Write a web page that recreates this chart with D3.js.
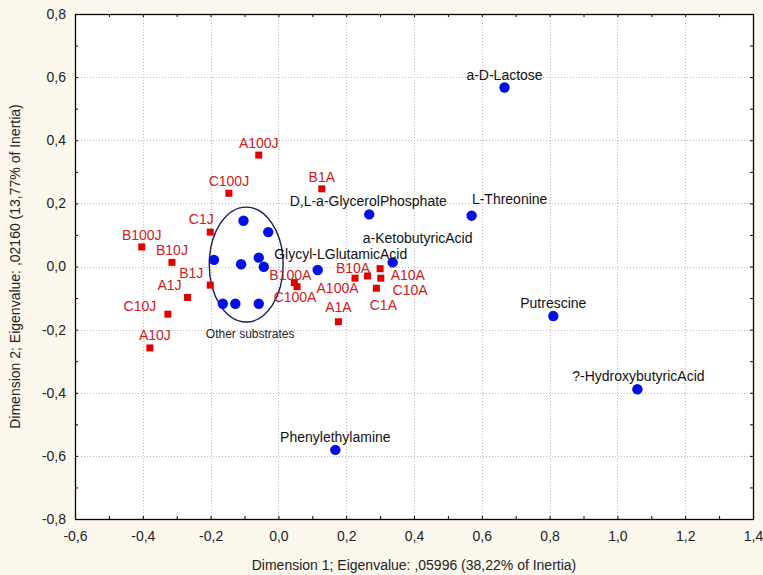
<!DOCTYPE html>
<html><head><meta charset="utf-8">
<script src="https://cdn.jsdelivr.net/npm/d3@7"></script>
<style>body{margin:0;background:#fcf8ee} svg{display:block}</style>
</head><body><svg id="c" width="763" height="575"></svg>
<script>
// ---- data ----
const substrates = ["a-D-Lactose","L-Threonine","D,L-a-GlycerolPhosphate","a-KetobutyricAcid","Glycyl-LGlutamicAcid","Putrescine","?-HydroxybutyricAcid","Phenylethylamine"];
const substrateX = [0.667, 0.570, 0.268, 0.337, 0.116, 0.811, 1.059, 0.168];
const substrateY = [0.567, 0.161, 0.165, 0.013, -0.011, -0.157, -0.389, -0.581];
const otherX = [-0.103, -0.030, -0.190, -0.110, -0.058, -0.043, -0.164, -0.127, -0.058];
const otherY = [0.145, 0.109, 0.021, 0.007, 0.028, -0.001, -0.118, -0.118, -0.118];
const samples = ["A100J","C100J","B1A","C1J","B100J","B10J","B1J","A1J","C10J","A10J","B100A","C100A","B10A","A100A","A10A","C10A","C1A","A1A"];
const sampleX = [-0.058, -0.146, 0.128, -0.201, -0.403, -0.314, -0.201, -0.268, -0.326, -0.379, 0.047, 0.055, 0.226, 0.263, 0.302, 0.300, 0.289, 0.177];
const sampleY = [0.353, 0.232, 0.246, 0.109, 0.062, 0.013, -0.059, -0.098, -0.151, -0.258, -0.051, -0.064, -0.037, -0.030, -0.037, -0.007, -0.069, -0.175];
const otherLabel = "Other substrates";
const ellipseCenter = [-0.095, 0.006];
const ellipseRadii = [0.109, 0.182];
const xTicks = [-0.6,-0.4,-0.2,0,0.2,0.4,0.6,0.8,1.0,1.2,1.4];
const yTicks = [-0.8,-0.6,-0.4,-0.2,0,0.2,0.4,0.6,0.8];
const xTitle = "Dimension 1; Eigenvalue: ,05996 (38,22% of Inertia)";
const yTitle = "Dimension 2; Eigenvalue: ,02160 (13,77% of Inertia)";

// ---- layout (label placement, px offsets of label centre from mark) ----
const labelOffset = {
  "a-D-Lactose":[0,-13], "L-Threonine":[38,-17], "D,L-a-GlycerolPhosphate":[-1,-13],
  "a-KetobutyricAcid":[25,-24], "Glycyl-LGlutamicAcid":[23,-16], "Putrescine":[0,-13],
  "?-HydroxybutyricAcid":[1,-13], "Phenylethylamine":[0,-13],
  "A100J":[0,-12], "C100J":[0,-12], "B1A":[0,-12], "C1J":[-9,-13], "B100J":[0,-12],
  "B10J":[0,-12], "B1J":[-19,-12], "A1J":[-18,-12], "C10J":[-28,-8], "A10J":[5,-13],
  "B100A":[-4,-8], "C100A":[-2,10], "B10A":[-2,-10], "A100A":[-30,12],
  "A10A":[27,-3], "C10A":[30,21], "C1A":[7,17], "A1A":[0,-15]
};

const W = 763, H = 575;
const m = {l:75, r:10, t:14, b:56};
const svg = d3.select("#c");
svg.append("rect").attr("width",W).attr("height",H).attr("fill","#fcf8ee");

const x = d3.scaleLinear().domain([-0.6,1.4]).range([m.l, W-m.r]);
const y = d3.scaleLinear().domain([-0.8,0.8]).range([H-m.b, m.t]);
const loc = d3.formatLocale({decimal:",", thousands:".", grouping:[3], currency:["",""], minus:"-"});
const fmt = loc.format(".1f");
const font = "'Liberation Sans', Arial, sans-serif";

svg.append("rect").attr("x",x(-0.6)).attr("y",y(0.8))
  .attr("width",x(1.4)-x(-0.6)).attr("height",y(-0.8)-y(0.8)).attr("fill","#fff");

// grid
const g = svg.append("g");
g.selectAll("line.vx").data(xTicks.slice(1,-1)).join("line")
  .attr("x1",d=>Math.round(x(d))+0.5).attr("x2",d=>Math.round(x(d))+0.5)
  .attr("y1",y(0.8)).attr("y2",y(-0.8))
  .attr("stroke","#b8b8b8").attr("stroke-dasharray","1,2");
g.selectAll("line.hy").data(yTicks.slice(1,-1)).join("line")
  .attr("y1",d=>Math.round(y(d))+0.5).attr("y2",d=>Math.round(y(d))+0.5)
  .attr("x1",x(-0.6)).attr("x2",x(1.4))
  .attr("stroke","#b8b8b8").attr("stroke-dasharray","1,2");

// axes (ticks inside, all four sides)
const xMinor = d3.range(-0.6,1.4001,0.1);
const yMinor = d3.range(-0.8,0.8001,0.1);
function styleAxis(sel){
  sel.select(".domain").remove();
  sel.selectAll(".tick line").attr("stroke","#000");
  sel.selectAll("text").attr("font-family",font).attr("font-size",14).attr("fill","#222");
}
svg.append("g").attr("transform",`translate(0,${y(-0.8)})`)
  .call(d3.axisBottom(x).tickValues(xMinor).tickSize(-3).tickFormat(""))
  .call(styleAxis);
svg.append("g").attr("transform",`translate(0,${y(0.8)})`)
  .call(d3.axisTop(x).tickValues(xMinor).tickSize(-3).tickFormat(""))
  .call(styleAxis);
svg.append("g").attr("transform",`translate(${x(-0.6)},0)`)
  .call(d3.axisLeft(y).tickValues(yMinor).tickSize(-3).tickFormat(""))
  .call(styleAxis);
svg.append("g").attr("transform",`translate(${x(1.4)},0)`)
  .call(d3.axisRight(y).tickValues(yMinor).tickSize(-3).tickFormat(""))
  .call(styleAxis);
// labels
svg.append("g").attr("transform",`translate(0,${y(-0.8)})`)
  .call(d3.axisBottom(x).tickValues(xTicks).tickSize(0).tickPadding(12).tickFormat(fmt))
  .call(styleAxis);
svg.append("g").attr("transform",`translate(${x(-0.6)},0)`)
  .call(d3.axisLeft(y).tickValues(yTicks).tickSize(0).tickPadding(9).tickFormat(fmt))
  .call(styleAxis);

svg.append("rect").attr("x",x(-0.6)+0.5).attr("y",y(0.8)+0.5)
  .attr("width",x(1.4)-x(-0.6)).attr("height",y(-0.8)-y(0.8))
  .attr("fill","none").attr("stroke","#000").attr("stroke-width",1.3);

// titles
svg.append("text").attr("x",(x(-0.6)+x(1.4))/2).attr("y",570)
  .attr("text-anchor","middle").attr("font-family",font).attr("font-size",14).attr("fill","#222")
  .text(xTitle);
svg.append("text").attr("transform",`translate(20,${(y(0.8)+y(-0.8))/2}) rotate(-90)`)
  .attr("text-anchor","middle").attr("font-family",font).attr("font-size",14).attr("fill","#222")
  .text(yTitle);

// ellipse
svg.append("ellipse")
  .attr("cx",x(ellipseCenter[0])).attr("cy",y(ellipseCenter[1]))
  .attr("rx",x(ellipseRadii[0])-x(0)).attr("ry",y(0)-y(ellipseRadii[1]))
  .attr("fill","none").attr("stroke","#1c1c5c").attr("stroke-width",1.4);
svg.append("text").attr("x",x(ellipseCenter[0])+4).attr("y",y(ellipseCenter[1]-ellipseRadii[1])+16)
  .attr("text-anchor","middle").attr("font-family",font).attr("font-size",12).attr("fill","#222")
  .text(otherLabel);

// points
const sub = substrates.map((n,i)=>({n, x:substrateX[i], y:substrateY[i]}));
const oth = otherX.map((v,i)=>({x:v, y:otherY[i]}));
const sam = samples.map((n,i)=>({n, x:sampleX[i], y:sampleY[i]}));

svg.append("g").selectAll("rect").data(sam).join("rect")
  .attr("x",d=>x(d.x)-3.5).attr("y",d=>y(d.y)-3.5).attr("width",7).attr("height",7)
  .attr("fill","#e00000");
svg.append("g").selectAll("circle").data(sub.concat(oth)).join("circle")
  .attr("cx",d=>x(d.x)).attr("cy",d=>y(d.y)).attr("r",5.2).attr("fill","#0010e6");

svg.append("g").selectAll("text").data(sam).join("text")
  .attr("x",d=>x(d.x)+labelOffset[d.n][0]).attr("y",d=>y(d.y)+labelOffset[d.n][1]+5)
  .attr("text-anchor","middle").attr("font-family",font).attr("font-size",14).attr("fill","#d0201c")
  .text(d=>d.n);
svg.append("g").selectAll("text").data(sub).join("text")
  .attr("x",d=>x(d.x)+labelOffset[d.n][0]).attr("y",d=>y(d.y)+labelOffset[d.n][1]+5)
  .attr("text-anchor","middle").attr("font-family",font).attr("font-size",14).attr("fill","#111")
  .text(d=>d.n);
</script></body></html>
